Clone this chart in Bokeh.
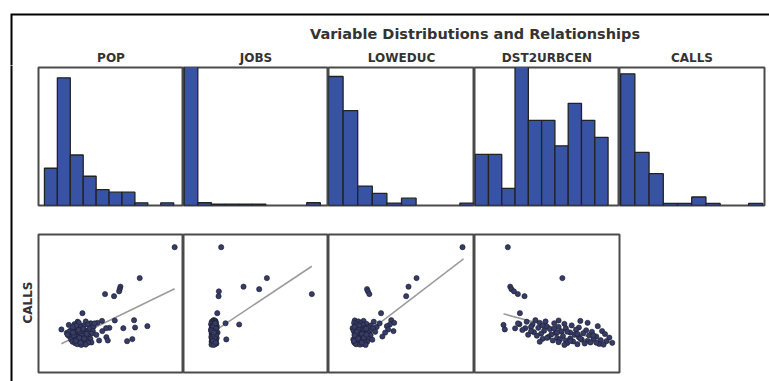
import numpy as np
from bokeh.plotting import figure
from bokeh.layouts import row, column
from bokeh.models import Range1d, ColumnDataSource
from bokeh.core.properties import value
from bokeh.embed import file_html
from bokeh.resources import INLINE

TITLE = "Variable Distributions and Relationships"
variables = ["POP", "JOBS", "LOWEDUC", "DST2URBCEN", "CALLS"]
y_label = "CALLS"

# ---- histogram counts (10 equal-width bins per variable) ----
bin_edges = list(range(11))
hist_pop = [14, 48, 19, 11, 6, 5, 5, 1, 0, 1]
hist_jobs = [102, 2, 1, 1, 1, 1, 0, 0, 0, 2]
hist_loweduc = [53, 39, 8, 5, 1, 3, 0, 0, 0, 1]
hist_dst = [6, 6, 2, 39, 10, 10, 7, 12, 10, 8]
hist_calls = [62, 25, 15, 1, 1, 4, 1, 0, 0, 1]

# ---- observations (scaled 0-100 units) ----
calls = [90.8, 68.4, 62.2, 60.4, 58.8, 56.8, 55.3, 43.0,
         37.9, 37.7, 37.4, 37.0, 36.8, 36.0, 36.0, 35.7, 35.3, 35.0, 34.8, 34.5, 34.1,
         33.6, 33.3, 33.0, 32.6, 32.4, 32.1, 32.1, 32.0, 31.5, 31.2, 31.0,
         30.6, 30.3, 30.0, 29.8, 29.5, 29.2, 29.0, 28.7, 28.5,
         28.2, 27.9, 27.6, 27.3, 27.0, 26.7, 26.4, 26.1, 25.8, 25.6,
         25.3, 25.0, 24.7, 24.4, 24.2, 24.0, 23.8, 23.5, 23.2, 23.2, 23.0,
         22.7, 22.5, 22.3, 22.0, 21.8, 21.5, 21.3, 21.0, 20.7, 20.5, 20.2, 20.0,
         34.0, 33.0, 31.8, 30.8, 29.6, 28.0, 26.9, 25.1, 24.6, 22.9, 21.6, 27.4, 35.6, 30.0, 28.9]
pop = [93.9, 69.8, 56.5, 56.0, 55.6, 45.9, 52.1, 30.3,
       65.9, 52.6, 43.8, 32.6, 27.0, 40.6, 27.8, 36.0, 36.0, 24.8, 34.0, 20.9, 31.0,
       75.1, 38.0, 29.0, 66.6, 48.9, 46.6, 58.5, 25.0, 35.0, 15.8, 28.0,
       32.0, 22.0, 37.5, 26.5, 30.5, 24.0, 33.5, 19.5, 28.8,
       36.8, 23.0, 31.5, 39.9, 25.5, 29.8, 21.0, 34.5, 27.2, 46.8,
       32.8, 24.5, 30.0, 35.8, 64.7, 26.0, 22.5, 29.2, 47.8, 41.8, 33.0,
       61.1, 27.8, 23.5, 31.2, 36.5, 34.2, 25.2, 28.5, 30.8, 26.8, 32.5, 29.5,
       26.0, 23.5, 30.8, 27.5, 21.2, 33.2, 24.2, 28.2, 31.6, 25.8, 29.0, 20.0, 38.6, 44.0, 23.8]
jobs = [26.0, 57.5, 41.4, 52.2, 24.4, 88.5, 24.2, 23.3,
        21.0, 20.5, 22.0, 21.5, 19.5, 20.0, 22.5, 29.0, 20.8, 19.0, 38.4, 21.8, 20.2,
        23.0, 19.8, 21.2, 22.3, 20.6, 19.3, 21.7, 22.8, 20.1, 19.6, 21.4,
        20.7, 19.1, 22.1, 20.3, 21.9, 19.9, 23.5, 20.4, 21.1,
        19.4, 22.6, 20.0, 21.6, 19.7, 20.9, 22.2, 20.5, 19.2, 21.3,
        20.2, 22.9, 19.5, 21.0, 20.7, 29.5, 20.0, 21.8, 19.8, 22.4, 20.6,
        21.5, 19.4, 22.0, 20.4, 21.2, 19.6, 20.9, 22.7, 20.1, 21.7, 19.3, 20.8,
        21.1, 20.4, 22.4, 19.0, 21.5, 20.2, 22.5, 19.9, 21.4, 20.3, 22.1, 20.7, 21.9, 19.7, 21.0]
loweduc = [91.8, 60.3, 54.8, 26.4, 27.0, 28.0, 53.2, 36.0,
           43.0, 18.0, 24.0, 20.5, 31.0, 45.0, 17.5, 22.0, 26.0, 19.0, 42.0, 23.5, 29.0,
           40.0, 18.5, 33.0, 27.5, 21.0, 16.5, 25.0, 30.5, 19.8, 40.9, 22.8,
           24.5, 17.2, 28.3, 20.2, 32.0, 18.8, 26.8, 21.5, 23.2,
           19.5, 25.6, 17.8, 22.4, 28.8, 20.6, 24.0, 36.9, 18.2, 26.2,
           21.8, 23.7, 19.2, 27.2, 22.6, 17.0, 30.0, 20.8, 25.0, 18.6, 23.9,
           21.2, 19.6, 26.5, 17.6, 22.1, 24.8, 20.0, 18.4, 23.0, 19.0, 21.6, 25.4,
           21.0, 17.8, 25.8, 20.4, 19.4, 22.9, 18.0, 24.2, 20.3, 17.4, 22.7, 26.0, 35.0, 44.5, 38.8]
dst2urbcen = [23.0, 60.6, 24.6, 25.5, 27.2, 29.9, 34.5, 31.3,
              42.0, 58.0, 73.0, 49.0, 36.0, 78.0, 45.0, 55.0, 62.0, 31.0, 40.0, 20.0, 67.0,
              85.0, 50.0, 58.0, 72.0, 44.0, 35.0, 63.0, 28.0, 52.0, 20.9, 70.0,
              77.0, 48.0, 88.0, 60.0, 81.0, 41.0, 66.0, 56.0, 75.0,
              46.0, 90.0, 53.0, 69.0, 79.0, 43.0, 61.0, 84.0, 51.0, 72.0,
              93.0, 57.0, 66.0, 47.0, 82.0, 59.0, 74.0, 87.0, 63.0, 54.0, 78.0,
              91.0, 68.0, 45.0, 58.0, 80.0, 95.0, 64.0, 76.0, 86.0, 71.0, 89.0, 62.0,
              47.0, 39.0, 55.0, 33.0, 64.0, 71.0, 82.0, 50.0, 73.0, 66.0, 84.0, 37.0, 30.0, 39.0, 57.0]

# ---- fitted trend lines (x pair, CALLS pair) ----
trend_pop = ([15.8, 93.9], [20.8, 60.7])
trend_jobs = ([19.0, 88.5], [28.4, 77.0])
trend_loweduc = ([16.0, 92.5], [20.4, 82.4])
trend_dst = ([20.0, 95.0], [42.5, 21.4])

# ---- layout / style settings (page pixels) ----
CANVAS_W = 769
CANVAS_H = 381
STRIP_W = 36
PANEL_W = [145, 145, 146, 145, 145]
FRAME_H = 138
HEADER_H = 65
hist_xlim = [(-0.46, 10.76), (-0.05, 10.6), (0.0, 10.0), (-0.05, 10.86), (-0.08, 10.12)]
hist_ylim = [51.9, 101.0, 56.7, 16.2, 65.0]
BAR_FILL = "#3953a4"
BAR_LINE = "#222222"
PT_FILL = "#363c68"
PT_LINE = "#1c1c2c"
FRAME_COLOR = "#4a4a4a"
TEXT_COLOR = "#333333"
FONT = value("DejaVu Sans")


def base(width, height, xr, yr, **kw):
    p = figure(width=width, height=height, x_range=xr, y_range=yr,
               toolbar_location=None, output_backend="svg",
               x_axis_type=None, y_axis_type=None,
               min_border_left=kw.pop("min_border_left", 0),
               min_border_right=kw.pop("min_border_right", 0),
               min_border_top=kw.pop("min_border_top", 0),
               min_border_bottom=kw.pop("min_border_bottom", 0), **kw)
    p.background_fill_color = "white"
    p.border_fill_color = "white"
    return p


# header across the full width: outer frame corner, title, column labels
header = base(CANVAS_W, HEADER_H, Range1d(0, CANVAS_W), Range1d(HEADER_H, 0))
header.outline_line_color = None
header.line([CANVAS_W + 5, 11, 11], [14, 14, HEADER_H + 5], line_color="black",
            line_width=2, line_join="miter")
header.text(x=[474.5], y=[33], text=[TITLE], text_align="center", text_baseline="middle",
            text_font=FONT, text_font_style="bold", text_font_size="14.5px",
            text_color=TEXT_COLOR)
edges_px = np.cumsum([STRIP_W + 2] + PANEL_W)
label_x = [(edges_px[i] + edges_px[i + 1]) / 2 for i in range(len(variables))]
header.text(x=label_x, y=[57] * len(variables), text=variables, text_align="center",
            text_baseline="middle", text_font=FONT, text_font_style="bold",
            text_font_size="12px", text_color=TEXT_COLOR)

# left strip below the header: outer frame and y label
STRIP_H = CANVAS_H - HEADER_H
strip = base(STRIP_W, STRIP_H, Range1d(0, STRIP_W), Range1d(CANVAS_H, HEADER_H))
strip.outline_line_color = None
strip.line([11, 11], [HEADER_H - 5, CANVAS_H + 5], line_color="black", line_width=2)
strip.text(x=[27.5], y=[302], text=[y_label], angle=np.pi / 2, text_align="center",
           text_baseline="middle", text_font=FONT, text_font_style="bold",
           text_font_size="12px", text_color=TEXT_COLOR)

# histogram row
hists = []
all_counts = [hist_pop, hist_jobs, hist_loweduc, hist_dst, hist_calls]
for i, counts in enumerate(all_counts):
    lb = 2 if i == 0 else 0
    rb = 2 if i == len(all_counts) - 1 else 0
    p = base(PANEL_W[i] + lb + rb, FRAME_H + 4, Range1d(*hist_xlim[i]), Range1d(0, hist_ylim[i]),
             min_border_left=lb, min_border_right=rb, min_border_top=2, min_border_bottom=2)
    p.outline_line_color = FRAME_COLOR
    p.outline_line_width = 2
    keep = [k for k, c in enumerate(counts) if c > 0]
    src = ColumnDataSource(dict(left=[bin_edges[k] for k in keep],
                                right=[bin_edges[k + 1] for k in keep],
                                top=[counts[k] for k in keep]))
    p.quad(left="left", right="right", top="top", bottom=0, source=src,
           fill_color=BAR_FILL, line_color=BAR_LINE, line_width=1.3)
    hists.append(p)

# scatter row
scatters = []
xs_all = [pop, jobs, loweduc, dst2urbcen]
trends = [trend_pop, trend_jobs, trend_loweduc, trend_dst]
for i, xs in enumerate(xs_all):
    lb = 2 if i == 0 else 0
    rb = 2 if i == len(xs_all) - 1 else 0
    p = base(PANEL_W[i] + lb + rb, FRAME_H + 29, Range1d(0, 100), Range1d(0, 100),
             min_border_left=lb, min_border_right=rb, min_border_top=27, min_border_bottom=2)
    p.outline_line_color = FRAME_COLOR
    p.outline_line_width = 2
    tx, ty = trends[i]
    p.line(tx, ty, line_color="#9c9c9c", line_width=1.6)
    p.scatter(xs, calls, size=5.2, fill_color=PT_FILL, line_color=PT_LINE, line_width=0.6)
    scatters.append(p)

panels = column(row(*hists), row(*scatters))
layout = column(header, row(strip, panels))

open("out.html", "w").write(file_html(layout, INLINE, title="Variable Distributions and Relationships"))
